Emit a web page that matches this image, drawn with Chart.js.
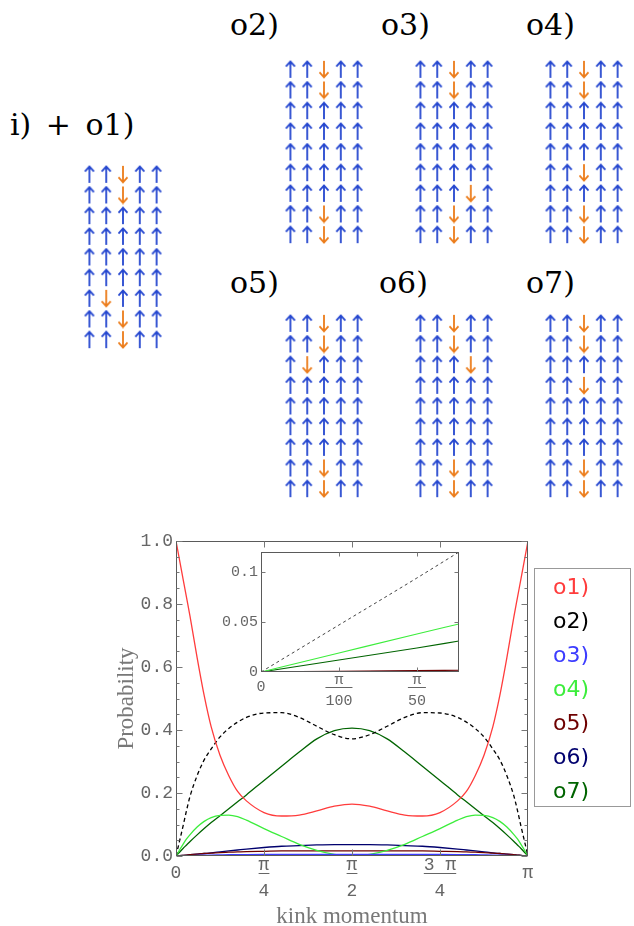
<!DOCTYPE html>
<html>
<head>
<meta charset="utf-8">
<script src="https://cdn.jsdelivr.net/npm/chart.js@4.4.1/dist/chart.umd.min.js"></script>
<style>
  html, body { margin: 0; padding: 0; background: #fff; }
  #page { position: relative; width: 634px; height: 926px; overflow: hidden; }
  #page canvas { position: absolute; }
  .panel-label { position: absolute; font-family: 'DejaVu Serif'; font-size: 30px; line-height: 30px; color: #000; white-space: nowrap; }
  #legend { position: absolute; left: 534px; top: 568px; width: 97px; height: 239px; border: 1px solid #999; box-sizing: border-box; font-family: 'DejaVu Sans'; font-size: 22px; }
  .legend-item { position: absolute; left: 18px; line-height: 22px; white-space: nowrap; }
</style>
</head>
<body>
<div id="page"></div>
<script>
// ----- spin panels -----
const panelLabels = ['i) + o1)', 'o2)', 'o3)', 'o4)', 'o5)', 'o6)', 'o7)'];
const panelLabelX = [10, 230, 381, 526, 230, 379, 526];
const panelLabelY = [110, 10, 10, 10, 268, 268, 268];
const panelLeft = [72, 273, 403, 533, 273, 403, 533];
const panelTop = [155, 50, 50, 50, 304, 304, 304];

// u = spin up, d = spin down (rows top to bottom)
const spinsO1 = ['uuduu', 'uuduu', 'uuuuu', 'uuuuu', 'uuuuu', 'uuuuu', 'uduuu', 'uuduu', 'uuduu'];
const spinsO2 = ['uuduu', 'uuduu', 'uuuuu', 'uuuuu', 'uuuuu', 'uuuuu', 'uuuuu', 'uuduu', 'uuduu'];
const spinsO3 = ['uuduu', 'uuduu', 'uuuuu', 'uuuuu', 'uuuuu', 'uuuuu', 'uuudu', 'uuduu', 'uuduu'];
const spinsO4 = ['uuduu', 'uuduu', 'uuuuu', 'uuuuu', 'uuuuu', 'uuduu', 'uuuuu', 'uuduu', 'uuduu'];
const spinsO5 = ['uuduu', 'uuduu', 'uduuu', 'uuuuu', 'uuuuu', 'uuuuu', 'uuuuu', 'uuduu', 'uuduu'];
const spinsO6 = ['uuduu', 'uuduu', 'uuudu', 'uuuuu', 'uuuuu', 'uuuuu', 'uuuuu', 'uuduu', 'uuduu'];
const spinsO7 = ['uuduu', 'uuduu', 'uuuuu', 'uuduu', 'uuuuu', 'uuuuu', 'uuuuu', 'uuduu', 'uuduu'];
const panelSpins = [spinsO1, spinsO2, spinsO3, spinsO4, spinsO5, spinsO6, spinsO7];

const UP_COLOR = '#2446cf';
const DOWN_COLOR = '#ec7c1a';

// ----- probability curves (kink momentum in units of pi) -----
const kinkMomentum = [0, 0.01, 0.02, 0.03, 0.04, 0.06, 0.08, 0.1, 0.125, 0.15, 0.175, 0.2, 0.25, 0.3, 0.35, 0.4, 0.45, 0.5,
  0.55, 0.6, 0.65, 0.7, 0.75, 0.8, 0.825, 0.85, 0.875, 0.9, 0.92, 0.94, 0.96, 0.97, 0.98, 0.99, 1];

const o1Values = [1.0, 0.94, 0.88, 0.82, 0.76, 0.63, 0.51, 0.41, 0.32, 0.255, 0.205, 0.175, 0.138, 0.127, 0.13, 0.143, 0.158, 0.165,
  0.158, 0.143, 0.13, 0.127, 0.138, 0.175, 0.205, 0.255, 0.32, 0.41, 0.51, 0.63, 0.76, 0.82, 0.88, 0.94, 1.0];
const o2Values = [0, 0.047, 0.095, 0.145, 0.19, 0.255, 0.305, 0.34, 0.378, 0.405, 0.425, 0.44, 0.454, 0.455, 0.44, 0.412, 0.385, 0.372,
  0.385, 0.412, 0.44, 0.455, 0.454, 0.44, 0.425, 0.405, 0.378, 0.34, 0.305, 0.255, 0.19, 0.145, 0.095, 0.047, 0];
const o3Values = [0, 0.0003, 0.0006, 0.0009, 0.0012, 0.0018, 0.0024, 0.003, 0.0035, 0.004, 0.0043, 0.0045, 0.0048, 0.005, 0.005, 0.005, 0.005, 0.005,
  0.005, 0.005, 0.005, 0.005, 0.0048, 0.0045, 0.0043, 0.004, 0.0035, 0.003, 0.0024, 0.0018, 0.0012, 0.0009, 0.0006, 0.0003, 0];
const o4Values = [0, 0.019, 0.037, 0.054, 0.068, 0.092, 0.11, 0.122, 0.129, 0.13, 0.125, 0.114, 0.087, 0.062, 0.037, 0.018, 0.005, 0,
  0.005, 0.018, 0.037, 0.062, 0.087, 0.114, 0.125, 0.13, 0.129, 0.122, 0.11, 0.092, 0.068, 0.054, 0.037, 0.019, 0];
const o5Values = [0, 0.001, 0.002, 0.003, 0.004, 0.006, 0.008, 0.009, 0.011, 0.012, 0.013, 0.014, 0.015, 0.016, 0.016, 0.016, 0.016, 0.016,
  0.016, 0.016, 0.016, 0.016, 0.015, 0.014, 0.013, 0.012, 0.011, 0.009, 0.008, 0.006, 0.004, 0.003, 0.002, 0.001, 0];
const o6Values = [0, 0.001, 0.002, 0.003, 0.004, 0.006, 0.008, 0.01, 0.013, 0.016, 0.019, 0.022, 0.027, 0.031, 0.033, 0.035, 0.036, 0.036,
  0.036, 0.035, 0.033, 0.031, 0.027, 0.022, 0.019, 0.016, 0.013, 0.01, 0.008, 0.006, 0.004, 0.003, 0.002, 0.001, 0];
const o7Values = [0, 0.012, 0.024, 0.035, 0.046, 0.067, 0.087, 0.106, 0.128, 0.15, 0.172, 0.194, 0.24, 0.285, 0.33, 0.372, 0.398, 0.406,
  0.398, 0.372, 0.33, 0.285, 0.24, 0.194, 0.172, 0.15, 0.128, 0.106, 0.087, 0.067, 0.046, 0.035, 0.024, 0.012, 0];

// inset: zoom on small momentum
const insetMomentum = [0, 0.01, 0.02, 0.0254];
const insetO2 = [0, 0.047, 0.094, 0.12];
const insetO3 = [0, 0.0001, 0.0002, 0.0003];
const insetO4 = [0, 0.019, 0.038, 0.048];
const insetO5 = [0, 0.0007, 0.0014, 0.0018];
const insetO6 = [0, 0.0003, 0.0006, 0.0008];
const insetO7 = [0, 0.012, 0.024, 0.031];

const seriesNames = ['o1)', 'o2)', 'o3)', 'o4)', 'o5)', 'o6)', 'o7)'];
const seriesColors = ['#ff3c3c', '#000000', '#3c3cff', '#3ced3c', '#6e0000', '#00006e', '#006400'];
const mainSeries = [o1Values, o2Values, o3Values, o4Values, o5Values, o6Values, o7Values];
const insetSeries = [null, insetO2, insetO3, insetO4, insetO5, insetO6, insetO7];

// tick labels
const mainYMajor = [0, 0.2, 0.4, 0.6, 0.8, 1.0];
const mainYMinor = [0.05, 0.1, 0.15, 0.25, 0.3, 0.35, 0.45, 0.5, 0.55, 0.65, 0.7, 0.75, 0.85, 0.9, 0.95];
const mainXTicks = [0, 0.25, 0.5, 0.75, 1];
const mainXNums = ['0', 'π', 'π', '3 π', 'π'];
const mainXDens = ['', '4', '2', '4', ''];
const insetYMajor = [0.05, 0.1];
const insetXTicks = [0, 0.01, 0.02];
const insetXNums = ['0', 'π', 'π'];
const insetXDens = ['', '100', '50'];

const TICK_GRAY = '#666';
const page = document.getElementById('page');

function addCanvas(left, top, w, h) {
  const c = document.createElement('canvas');
  c.width = w; c.height = h;
  c.style.left = left + 'px'; c.style.top = top + 'px';
  c.style.width = w + 'px'; c.style.height = h + 'px';
  page.appendChild(c);
  return c;
}

function makeArrow(color, down) {
  const c = document.createElement('canvas');
  c.width = 12; c.height = 19;
  const g = c.getContext('2d');
  if (down) { g.translate(0, 19); g.scale(1, -1); }
  g.strokeStyle = color;
  g.lineWidth = 1.8;
  g.lineJoin = 'miter';
  g.beginPath();
  g.moveTo(6, 2); g.lineTo(6, 18);
  g.moveTo(1.5, 6.6); g.lineTo(6, 1.6); g.lineTo(10.5, 6.6);
  g.stroke();
  return c;
}
const upArrow = makeArrow(UP_COLOR, false);
const downArrow = makeArrow(DOWN_COLOR, true);

// ----- spin panels as scatter charts -----
panelSpins.forEach((rows, p) => {
  const ups = [], downs = [];
  rows.forEach((row, r) => {
    row.split('').forEach((s, col) => {
      (s === 'd' ? downs : ups).push({ x: col, y: r });
    });
  });
  const label = document.createElement('div');
  label.className = 'panel-label';
  label.textContent = panelLabels[p];
  label.style.left = panelLabelX[p] + 'px';
  label.style.top = panelLabelY[p] + 'px';
  if (p === 0) label.style.wordSpacing = '5px';
  page.appendChild(label);

  const c = addCanvas(panelLeft[p], panelTop[p], 102, 204);
  new Chart(c, {
    type: 'scatter',
    data: {
      datasets: [
        { data: ups, pointStyle: upArrow, pointRadius: 8 },
        { data: downs, pointStyle: downArrow, pointRadius: 8 }
      ]
    },
    options: {
      responsive: false, animation: false, events: [],
      layout: { padding: 0 },
      plugins: { legend: { display: false }, tooltip: { enabled: false } },
      scales: {
        x: { display: false, min: -0.5, max: 4.5 },
        y: { display: false, min: -0.5, max: 8.5, reverse: true }
      }
    }
  });
});

// ----- frame, inward ticks, fraction labels, titles -----
const framePlugin = {
  id: 'frameTicks',
  beforeDatasetsDraw(chart, args, o) {
    if (!o.fillArea) return;
    const { ctx, chartArea: a } = chart;
    ctx.save();
    ctx.fillStyle = '#fff';
    ctx.fillRect(a.left, a.top, a.right - a.left, a.bottom - a.top);
    ctx.restore();
  },
  afterDraw(chart, args, o) {
    const { ctx, chartArea: a } = chart;
    const xs = chart.scales.x, ys = chart.scales.y;
    const L = Math.round(a.left) + 0.5, R = Math.round(a.right) - 0.5;
    const T = Math.round(a.top) + 0.5, B = Math.round(a.bottom) - 0.5;
    ctx.save();
    ctx.strokeStyle = '#5a5a5a';
    ctx.lineWidth = 1;
    ctx.strokeRect(L, T, R - L, B - T);

    ctx.strokeStyle = '#777';
    const tick = (vals, len, vertical) => {
      vals.forEach(v => {
        ctx.beginPath();
        if (vertical) {
          const py = Math.round(ys.getPixelForValue(v)) + 0.5;
          ctx.moveTo(L, py); ctx.lineTo(L + len, py);
          ctx.moveTo(R, py); ctx.lineTo(R - len, py);
        } else {
          const px = Math.round(xs.getPixelForValue(v)) + 0.5;
          ctx.moveTo(px, B); ctx.lineTo(px, B - len);
          ctx.moveTo(px, T); ctx.lineTo(px, T + len);
        }
        ctx.stroke();
      });
    };
    tick(o.yMajor, o.majorLen, true);
    tick(o.yMinor || [], o.minorLen, true);
    tick(o.xMajor, o.majorLen, false);

    // fraction tick labels
    ctx.fillStyle = TICK_GRAY;
    ctx.font = o.fontSize + 'px "Liberation Mono"';
    ctx.textAlign = 'center';
    const barY = a.bottom + o.barOffset;
    o.xTicks.forEach((v, i) => {
      const px = xs.getPixelForValue(v);
      const num = o.xNums[i], den = o.xDens[i];
      if (!den) {
        ctx.textBaseline = 'middle';
        ctx.fillText(num, px, barY);
        return;
      }
      ctx.textBaseline = 'alphabetic';
      ctx.fillText(num, px, barY - 3.5);
      const w = Math.max(ctx.measureText(num).width, ctx.measureText(den).width);
      ctx.fillRect(px - w / 2, Math.round(barY), w, 1);
      ctx.textBaseline = 'middle';
      ctx.fillText(den, px, barY + o.denOffset);
    });

    // axis titles
    if (o.xTitle) {
      ctx.fillStyle = '#787878';
      ctx.font = '23px "Liberation Serif"';
      ctx.textAlign = 'center';
      ctx.textBaseline = 'middle';
      ctx.fillText(o.xTitle, (a.left + a.right) / 2, a.bottom + 61);
      ctx.save();
      ctx.translate(a.left - 49, (a.top + a.bottom) / 2);
      ctx.rotate(-Math.PI / 2);
      ctx.fillText(o.yTitle, 0, 0);
      ctx.restore();
    }
    ctx.restore();
  }
};

function lineDatasets(xVals, series, width, dash) {
  const sets = [];
  series.forEach((vals, i) => {
    if (!vals) return;
    sets.push({
      label: seriesNames[i],
      data: xVals.map((k, j) => ({ x: k, y: vals[j] })),
      borderColor: i === 1 && dash[0] < 4 ? '#444' : seriesColors[i],
      borderWidth: i === 1 && dash[0] < 4 ? 1 : width,
      borderDash: i === 1 ? dash : [],
      pointRadius: 0,
      cubicInterpolationMode: 'monotone',
      fill: false
    });
  });
  return sets;
}

// ----- main chart -----
const mainCanvas = addCanvas(100, 520, 440, 406);
new Chart(mainCanvas, {
  type: 'line',
  data: { datasets: lineDatasets(kinkMomentum, mainSeries, 1.3, [4, 3]) },
  options: {
    responsive: false, animation: false, events: [],
    layout: { padding: { top: 21, right: 12, left: 0, bottom: 0 } },
    plugins: {
      legend: { display: false }, tooltip: { enabled: false },
      frameTicks: {
        yMajor: mainYMajor, yMinor: mainYMinor, xMajor: mainXTicks.slice(1, -1),
        majorLen: 6, minorLen: 3,
        xTicks: mainXTicks, xNums: mainXNums, xDens: mainXDens,
        fontSize: 18, barOffset: 17, denOffset: 18.5,
        xTitle: 'kink momentum', yTitle: 'Probability'
      }
    },
    scales: {
      x: {
        type: 'linear', min: 0, max: 1,
        ticks: { display: false }, grid: { display: false, drawTicks: false }, border: { display: false },
        afterFit: s => { s.height = 70; }
      },
      y: {
        min: 0, max: 1,
        ticks: {
          stepSize: 0.2, callback: v => v.toFixed(1), padding: 3,
          font: { family: 'Liberation Mono', size: 18 }, color: TICK_GRAY
        },
        grid: { display: false, drawTicks: false }, border: { display: false },
        afterFit: s => { s.width = 76; }
      }
    }
  },
  plugins: [framePlugin]
});

// ----- inset chart -----
const insetCanvas = addCanvas(215, 540, 250, 170);
new Chart(insetCanvas, {
  type: 'line',
  data: { datasets: lineDatasets(insetMomentum, insetSeries, 1.1, [3, 3]) },
  options: {
    responsive: false, animation: false, events: [],
    layout: { padding: { top: 9, right: 6, left: 0, bottom: 0 } },
    plugins: {
      legend: { display: false }, tooltip: { enabled: false },
      frameTicks: {
        fillArea: true,
        yMajor: insetYMajor, xMajor: insetXTicks.slice(1),
        majorLen: 4, minorLen: 2,
        xTicks: insetXTicks, xNums: insetXNums, xDens: insetXDens,
        fontSize: 15, barOffset: 15, denOffset: 14.5
      }
    },
    scales: {
      x: {
        type: 'linear', min: 0, max: 0.0254,
        ticks: { display: false }, grid: { display: false, drawTicks: false }, border: { display: false },
        afterFit: s => { s.height = 38; }
      },
      y: {
        min: 0, max: 0.12,
        ticks: {
          stepSize: 0.05, includeBounds: false, padding: 3,
          callback: v => String(Number(v.toFixed(2))),
          font: { family: 'Liberation Mono', size: 15 }, color: TICK_GRAY
        },
        grid: { display: false, drawTicks: false }, border: { display: false },
        afterFit: s => { s.width = 46; }
      }
    }
  },
  plugins: [framePlugin]
});

// ----- legend -----
const legend = document.createElement('div');
legend.id = 'legend';
seriesNames.forEach((name, i) => {
  const item = document.createElement('div');
  item.className = 'legend-item';
  item.textContent = name;
  item.style.color = seriesColors[i];
  item.style.top = (7 + 34 * i) + 'px';
  legend.appendChild(item);
});
page.appendChild(legend);
</script>
</body>
</html>
